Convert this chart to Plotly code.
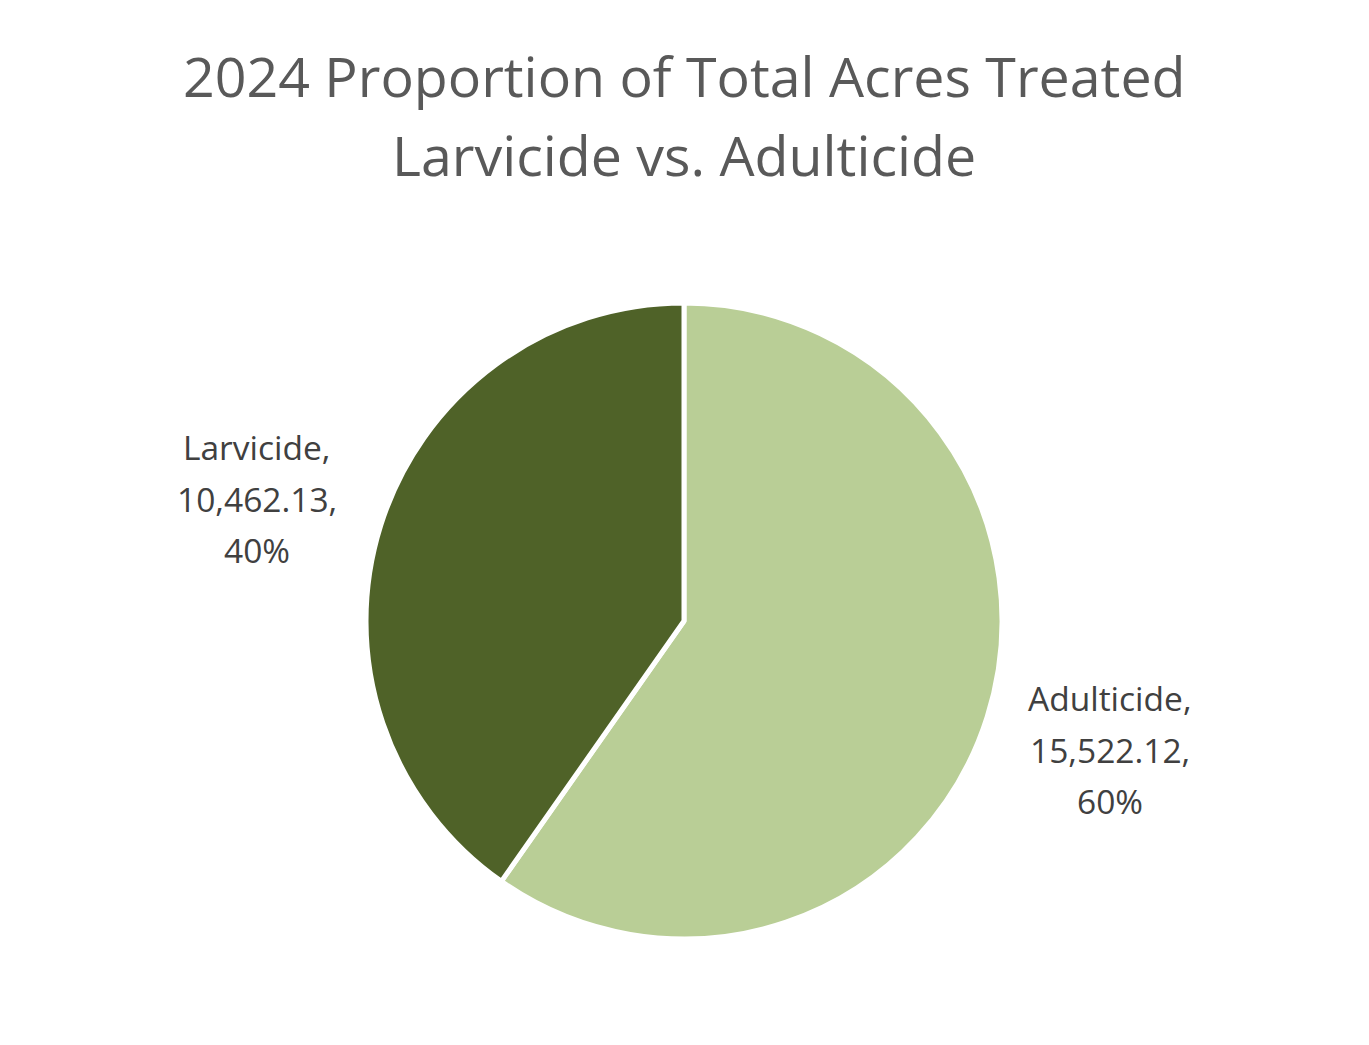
import plotly.graph_objects as go

categories = ["Adulticide", "Larvicide"]
acres = [15522.12, 10462.13]
colors = ["#B9CE96", "#4F6228"]
title_lines = ["2024 Proportion of Total Acres Treated", "Larvicide vs. Adulticide"]

W, H = 1369, 1045
OFF = 8  # page body margin
cx, cy, r = 684 - OFF, 621 - OFF, 318

total = sum(acres)
fig = go.Figure(go.Pie(
    labels=categories,
    values=acres,
    sort=False,
    direction="clockwise",
    rotation=0,
    marker=dict(colors=colors, line=dict(color="white", width=5)),
    textinfo="none",
    hoverinfo="label+value+percent",
    showlegend=False,
    domain=dict(x=[(cx - r) / W, (cx + r) / W], y=[1 - (cy + r) / H, 1 - (cy - r) / H]),
))

FONT = "Open Sans, Liberation Sans, sans-serif"

def add_text(text, px, py, size, color):
    fig.add_annotation(
        x=(px - OFF) / W, y=1 - (py - OFF) / H, xref="paper", yref="paper",
        text=text, showarrow=False, xanchor="center", yanchor="middle",
        font=dict(family=FONT, size=size, color=color),
    )

label_pos = {"Adulticide": (1110, 698), "Larvicide": (257, 447)}
for cat, v in zip(categories, acres):
    px, py = label_pos[cat]
    pct = round(100 * v / total)
    lines = [f"{cat},", f"{v:,.2f},", f"{pct}%"]
    for i, ln in enumerate(lines):
        add_text(ln, px, py + i * 51.5, 33.5, "#404040")

for i, ln in enumerate(title_lines):
    add_text(ln, 684, 76 + i * 78, 55.5, "#595959")

fig.update_layout(
    width=W, height=H,
    margin=dict(l=0, r=0, t=0, b=0),
    paper_bgcolor="white", plot_bgcolor="white",
)

fig.write_html("out.html")
